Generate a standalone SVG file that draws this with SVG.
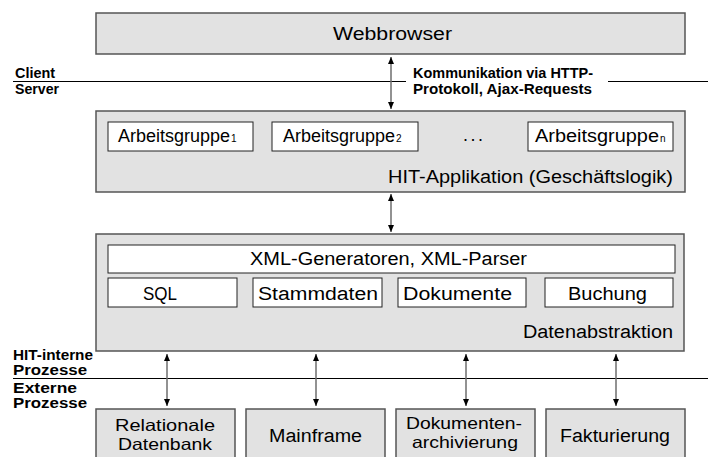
<svg xmlns="http://www.w3.org/2000/svg" width="708" height="457" viewBox="0 0 708 457">
<style>
  text { font-family: "Liberation Sans", Arial, sans-serif; fill: #000; }
  .outer { fill: #e2e2e2; stroke: #555; stroke-width: 1.5; }
  .inner { fill: #fff; stroke: #222; stroke-width: 1; }
  .big { font-size: 18px; }
  .two { font-size: 16.5px; }
  .lab { font-size: 14px; font-weight: bold; }
  .sub { font-size: 10px; }
  .sep { stroke: #000; stroke-width: 1; fill: none; }
  .arr { stroke: #6e6e6e; stroke-width: 1.5; fill: none; marker-start: url(#ah); marker-end: url(#ah); }
</style>
<defs>
  <marker id="ah" viewBox="0 0 8 8" refX="7" refY="4" markerWidth="8" markerHeight="8" markerUnits="userSpaceOnUse" orient="auto-start-reverse">
    <path d="M0,1 L7,4 L0,7 Z" fill="#000"/>
  </marker>
</defs>
<rect width="708" height="457" fill="#fff"/>

<g id="separators">
  <line class="sep" x1="13" y1="81.5" x2="406" y2="81.5"/>
  <line class="sep" x1="608" y1="81.5" x2="708" y2="81.5"/>
  <line class="sep" x1="13" y1="378.5" x2="708" y2="378.5"/>
  <text class="lab" x="15" y="78" textLength="40" lengthAdjust="spacingAndGlyphs">Client</text>
  <text class="lab" x="15" y="94" textLength="44" lengthAdjust="spacingAndGlyphs">Server</text>
  <text class="lab" x="413" y="78" textLength="180" lengthAdjust="spacingAndGlyphs">Kommunikation via HTTP-</text>
  <text class="lab" x="413" y="94" textLength="179" lengthAdjust="spacingAndGlyphs">Protokoll, Ajax-Requests</text>
  <text class="lab" x="13" y="360" textLength="80" lengthAdjust="spacingAndGlyphs">HIT-interne</text>
  <text class="lab" x="13" y="375" textLength="74" lengthAdjust="spacingAndGlyphs">Prozesse</text>
  <text class="lab" x="13" y="393" textLength="64" lengthAdjust="spacingAndGlyphs">Externe</text>
  <text class="lab" x="13" y="408" textLength="74" lengthAdjust="spacingAndGlyphs">Prozesse</text>
</g>

<g id="connectors">
  <line class="arr" x1="391" y1="57" x2="391" y2="109"/>
  <line class="arr" x1="391" y1="194" x2="391" y2="232"/>
  <line class="arr" x1="167" y1="354" x2="167" y2="406"/>
  <line class="arr" x1="316" y1="354" x2="316" y2="406"/>
  <line class="arr" x1="466" y1="354" x2="466" y2="406"/>
  <line class="arr" x1="616" y1="354" x2="616" y2="406"/>
</g>

<g id="webbrowser">
  <rect class="outer" x="96" y="13" width="589" height="41"/>
  <text class="big" x="333" y="40" textLength="119" lengthAdjust="spacingAndGlyphs">Webbrowser</text>
</g>

<g id="hit-applikation">
  <rect class="outer" x="96" y="111" width="589" height="81"/>
  <text class="big" x="388" y="183" textLength="285" lengthAdjust="spacingAndGlyphs">HIT-Applikation (Geschäftslogik)</text>
  <text class="big" x="463" y="141" textLength="20" lengthAdjust="spacing">...</text>
</g>
<g id="arbeitsgruppe1">
  <rect class="inner" x="108" y="122" width="145" height="29"/>
  <text class="big" x="118" y="142"><tspan textLength="112" lengthAdjust="spacingAndGlyphs">Arbeitsgruppe</tspan><tspan class="sub" dx="1">1</tspan></text>
</g>
<g id="arbeitsgruppe2">
  <rect class="inner" x="272" y="122" width="146" height="29"/>
  <text class="big" x="283" y="142"><tspan textLength="112" lengthAdjust="spacingAndGlyphs">Arbeitsgruppe</tspan><tspan class="sub" dx="1">2</tspan></text>
</g>
<g id="arbeitsgruppen">
  <rect class="inner" x="528" y="122" width="145" height="29"/>
  <text class="big" x="535" y="142"><tspan textLength="124" lengthAdjust="spacingAndGlyphs">Arbeitsgruppe</tspan><tspan class="sub" dx="1">n</tspan></text>
</g>

<g id="datenabstraktion">
  <rect class="outer" x="96" y="234" width="588" height="117"/>
  <text class="big" x="523" y="338" textLength="150" lengthAdjust="spacingAndGlyphs">Datenabstraktion</text>
</g>
<g id="xml">
  <rect class="inner" x="108" y="245" width="567" height="28"/>
  <text class="big" x="250" y="265" textLength="277" lengthAdjust="spacingAndGlyphs">XML-Generatoren, XML-Parser</text>
</g>
<g id="sql">
  <rect class="inner" x="108" y="278" width="129" height="29"/>
  <text class="big" x="143" y="300" textLength="34" lengthAdjust="spacingAndGlyphs">SQL</text>
</g>
<g id="stammdaten">
  <rect class="inner" x="253" y="278" width="129" height="29"/>
  <text class="big" x="258" y="300" textLength="120" lengthAdjust="spacingAndGlyphs">Stammdaten</text>
</g>
<g id="dokumente">
  <rect class="inner" x="398" y="278" width="128" height="29"/>
  <text class="big" x="403" y="300" textLength="109" lengthAdjust="spacingAndGlyphs">Dokumente</text>
</g>
<g id="buchung">
  <rect class="inner" x="545" y="278" width="128" height="29"/>
  <text class="big" x="568" y="300" textLength="79" lengthAdjust="spacingAndGlyphs">Buchung</text>
</g>

<g id="relationale-datenbank">
  <rect class="outer" x="96" y="409" width="139" height="60"/>
  <text class="two" x="115" y="431" textLength="100" lengthAdjust="spacingAndGlyphs">Relationale</text>
  <text class="two" x="118" y="450" textLength="94" lengthAdjust="spacingAndGlyphs">Datenbank</text>
</g>
<g id="mainframe">
  <rect class="outer" x="246" y="409" width="139" height="60"/>
  <text class="big" x="269" y="442" textLength="93" lengthAdjust="spacingAndGlyphs">Mainframe</text>
</g>
<g id="dokumentenarchivierung">
  <rect class="outer" x="396" y="409" width="139" height="60"/>
  <text class="two" x="406" y="429" textLength="116" lengthAdjust="spacingAndGlyphs">Dokumenten-</text>
  <text class="two" x="412" y="448" textLength="106" lengthAdjust="spacingAndGlyphs">archivierung</text>
</g>
<g id="fakturierung">
  <rect class="outer" x="546" y="409" width="139" height="60"/>
  <text class="big" x="560" y="442" textLength="110" lengthAdjust="spacingAndGlyphs">Fakturierung</text>
</g>
</svg>
